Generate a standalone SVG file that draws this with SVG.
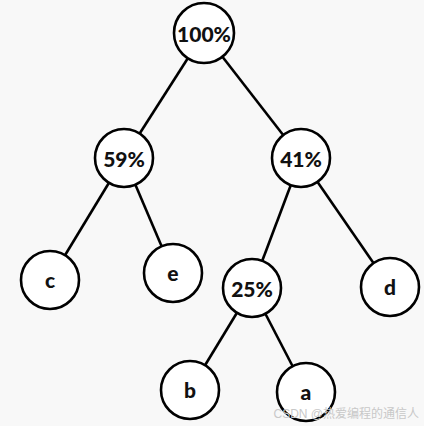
<svg xmlns="http://www.w3.org/2000/svg" width="424" height="426" viewBox="0 0 424 426">
<style>
.n circle{fill:#fff;stroke:#000;stroke-width:2.6}
.n text{font-family:Lato,"Open Sans",sans-serif;font-weight:900;font-size:21px;fill:#111;text-anchor:middle;dominant-baseline:central}
.e line{stroke:#000;stroke-width:2.6}
.wm{font-family:"Liberation Sans","Noto Sans CJK SC",sans-serif;font-size:12px;fill:#c8c8c8;text-anchor:end}
</style>
<rect width="424" height="426" fill="#f8f8f8"/>
<g id="edges" class="e">
<line x1="204" y1="33" x2="124" y2="158"/>
<line x1="204" y1="33" x2="301" y2="158"/>
<line x1="124" y1="158" x2="50" y2="280"/>
<line x1="124" y1="158" x2="173" y2="273"/>
<line x1="301" y1="158" x2="252" y2="288"/>
<line x1="301" y1="158" x2="390" y2="287"/>
<line x1="252" y1="288" x2="190" y2="390"/>
<line x1="252" y1="288" x2="306" y2="392"/>
</g>
<g id="n100" class="n"><circle cx="204" cy="33" r="30"/><text x="204" y="33">100%</text></g>
<g id="n59" class="n"><circle cx="124" cy="158" r="29"/><text x="124" y="158">59%</text></g>
<g id="n41" class="n"><circle cx="301" cy="158" r="29"/><text x="301" y="158">41%</text></g>
<g id="nc" class="n"><circle cx="50" cy="280" r="29"/><text x="50" y="279">c</text></g>
<g id="ne" class="n"><circle cx="173" cy="273" r="29"/><text x="173" y="272">e</text></g>
<g id="n25" class="n"><circle cx="252" cy="288" r="29"/><text x="252" y="288">25%</text></g>
<g id="nd" class="n"><circle cx="390" cy="287" r="29"/><text x="390" y="286">d</text></g>
<g id="nb" class="n"><circle cx="190" cy="390" r="29"/><text x="190" y="389">b</text></g>
<g id="na" class="n"><circle cx="306" cy="392" r="29"/><text x="306" y="391">a</text></g>
<text class="wm" x="419" y="418">CSDN @热爱编程的通信人</text>
</svg>
